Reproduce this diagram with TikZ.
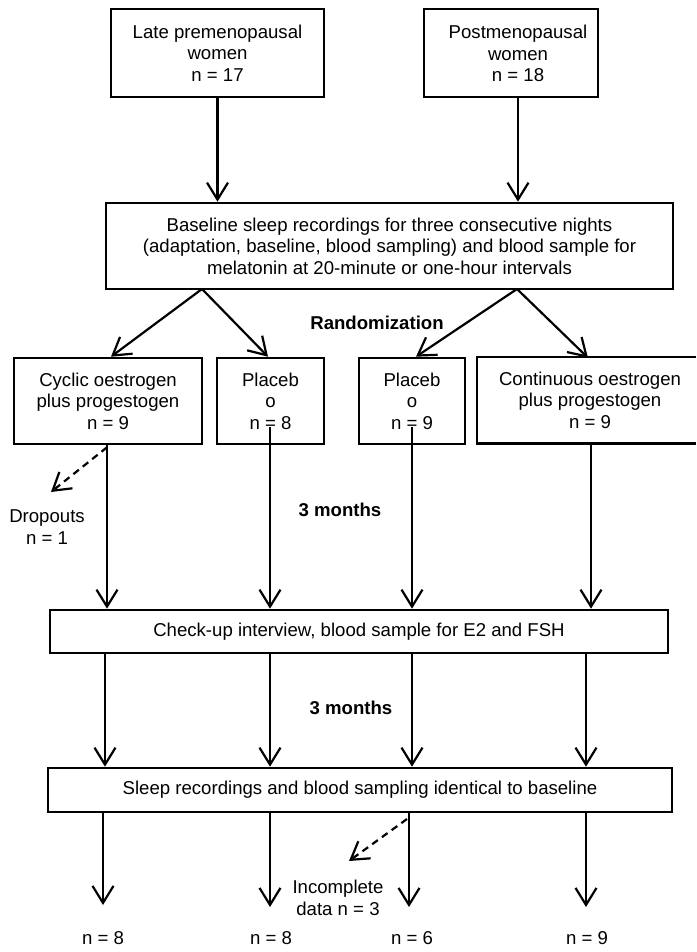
\documentclass[tikz,border=0pt]{standalone}
\usepackage{fontspec}
\setmainfont{Liberation Sans}
\usetikzlibrary{arrows.meta,calc}
\begin{document}
\begin{tikzpicture}[x=1pt,y=-1pt,
  every node/.style={font=\fontsize{18.6}{21.5}\selectfont, inner sep=0pt, align=center},
  box/.style={draw, line width=2.6pt},
  arr/.style={line width=2.2pt, -{Straight Barb[length=17pt,width=21pt]}},
  darr/.style={arr, dash pattern=on 7pt off 5pt},
  boldlbl/.style={font=\fontsize{18.6}{21.5}\selectfont\bfseries}]
\useasboundingbox (0,0) rectangle (696,952);
% top boxes
\node[box, minimum width=213pt, minimum height=88pt] (b1) at (217.5,53) {Late premenopausal\\women\\n = 17};
\node[box, minimum width=174pt, minimum height=88pt] (b2) at (511,53) {};
\node (b2t) at (518,53.5) {Postmenopausal\\women\\n = 18};
\node[box, minimum width=567pt, minimum height=86pt] (base) at (389.5,246) {Baseline sleep recordings for three consecutive nights\\(adaptation, baseline, blood sampling) and blood sample for\\melatonin at 20-minute or one-hour intervals};
\draw[arr] (b1.south) -- (b1.south |- base.north);
\draw[arr] (b2t |- b2.south) -- (b2t |- base.north);
% randomization
\coordinate (apL) at (202,289);
\coordinate (apR) at (517,289);
\node[boldlbl] (rand) at (377,323) {Randomization};
\node[box, minimum width=188pt, minimum height=86pt] (cyc) at (108,401) {Cyclic oestrogen\\plus progestogen\\n = 9};
\node[box, minimum width=107pt, minimum height=86pt] (pl1) at (270.5,401) {Placeb\\o\\n = 8};
\node[box, minimum width=106pt, minimum height=86pt] (pl2) at (412,401) {Placeb\\o\\n = 9};
\node[minimum width=226pt, minimum height=86pt] (con) at (590,400) {Continuous oestrogen\\plus progestogen\\n = 9};
\coordinate (redge) at (696,0);
\draw[line width=2.6pt] (con.north -| redge) -- (con.north west) -- (con.south west) -- (con.south -| redge);
\draw[arr] (apL) -- ($(cyc.north)+(3,0)$);
\draw[arr] (apL) -- ($(pl1.north)+(-2.5,0)$);
\draw[arr] (apR) -- ($(pl2.north)+(4,0)$);
\draw[arr] (apR) -- ($(con.north)+(-2,1)$);
% first period
\node[box, minimum width=618pt, minimum height=43pt] (chk) at (359,631.5) {Check-up interview, blood sample for E2 and FSH};
\coordinate (p1s) at (270,427);
\coordinate (p2s) at (412,427);
\draw[arr] ($(cyc.south)+(-1,0)$) -- ($(cyc.south |- chk.north)+(-1,0)$);
\draw[arr] (p1s) -- (p1s |- chk.north);
\draw[arr] (p2s) -- (p2s |- chk.north);
\draw[arr] ($(con.south)+(1,0)$) -- ($(con.south |- chk.north)+(1,0)$);
\coordinate (dtip) at (51,492);
\draw[darr] ($(cyc.south)+(-1,2)$) -- (dtip);
\node (drop) at (47,527) {Dropouts\\n = 1};
\node[boldlbl] (m1) at (340,510) {3 months};
% second period
\node[box, minimum width=624pt, minimum height=44pt] (slp) at (360,790) {Sleep recordings and blood sampling identical to baseline};
\coordinate (cA) at (105,0);
\coordinate (cB) at (270,0);
\coordinate (cC) at (412,0);
\coordinate (cD) at (586,0);
\foreach \c in {cA,cB,cC,cD}
  \draw[arr] (chk.south -| \c) -- (slp.north -| \c);
\node[boldlbl] (m2) at (351,708) {3 months};
% final
\node (f1) at (103,938) {n = 8};
\node (f2) at (271,938) {n = 8};
\node (f3) at (412,938) {n = 6};
\node (f4) at (587,938) {n = 9};
\coordinate (eA) at (103,905);
\coordinate (eB) at (270,907);
\coordinate (eC) at (409,907);
\coordinate (eD) at (586,907);
\foreach \c in {eA,eB,eC,eD}
  \draw[arr] (slp.south -| \c) -- (\c);
\coordinate (ds) at (407,819);
\coordinate (de) at (349,861);
\draw[darr] (ds) -- (de);
\node (inc) at (338,898) {Incomplete\\data n = 3};
\end{tikzpicture}
\end{document}
